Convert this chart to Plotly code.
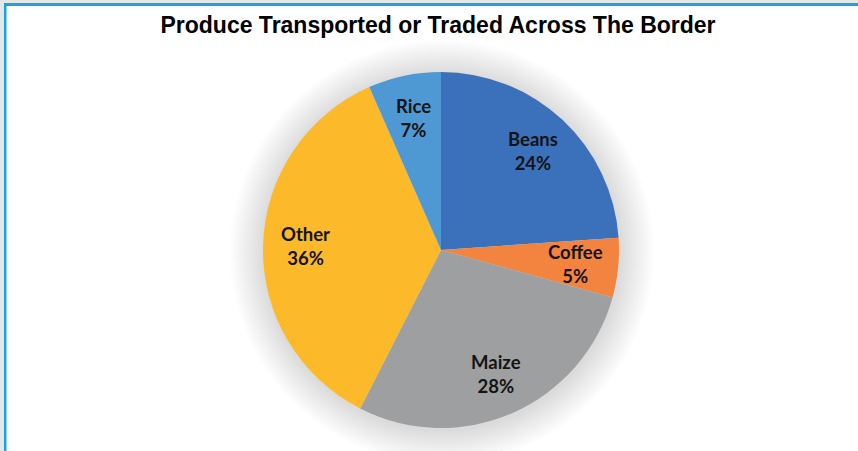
import math
import plotly.graph_objects as go

labels = ["Beans", "Coffee", "Maize", "Other", "Rice"]
values = [23.9, 5.4, 28.2, 35.9, 6.6]
colors = ["#3A71BA", "#F28440", "#9E9FA1", "#FCBA2B", "#4E98D4"]
title_text = "Produce Transported or Traded Across The Border"

W, H = 858, 451
cx, cy, R = 441, 250, 178  # pixel geometry of the pie
label_r = 0.76             # label distance as fraction of radius

def px_x(x):
    return x / W

def px_y(y):
    return 1 - y / H

fig = go.Figure(go.Pie(
    labels=labels,
    values=values,
    marker=dict(colors=colors, line=dict(width=0)),
    sort=False,
    direction="clockwise",
    rotation=0,
    textinfo="none",
    showlegend=False,
    hoverinfo="label+percent",
    domain=dict(x=[px_x(cx - R), px_x(cx + R)], y=[px_y(cy + R), px_y(cy - R)]),
))

# data labels placed at each slice's mid-angle, derived from the values
total = sum(values)
annotations = []
cum = 0.0
for lab, v in zip(labels, values):
    mid = (cum + v / 2) / total * 2 * math.pi
    cum += v
    lx = cx + label_r * R * math.sin(mid)
    ly = cy - label_r * R * math.cos(mid)
    pct = round(v / total * 100)
    annotations.append(dict(
        x=px_x(lx), y=px_y(ly), xref="paper", yref="paper",
        text=f"<b>{lab}<br>{pct}%</b>", showarrow=False,
        xanchor="center", yanchor="middle", align="center",
        font=dict(family="Lato, Open Sans, sans-serif", size=18.5, color="#141414"),
    ))

shapes = []
# soft shadow behind the pie
n = 18
for i in range(n):
    r = R + 34 * (i + 1) / n
    shapes.append(dict(type="circle", xref="paper", yref="paper", layer="below",
                       x0=px_x(cx + 1 - r), x1=px_x(cx + 1 + r),
                       y0=px_y(cy + 2 + r), y1=px_y(cy + 2 - r),
                       fillcolor="rgba(0,0,0,0.0095)", line=dict(width=0)))
# outer light strips
shapes.append(dict(type="rect", xref="paper", yref="paper", x0=0, x1=1, y0=px_y(3), y1=1,
                   fillcolor="#E4E8E4", line=dict(width=0), layer="above"))
shapes.append(dict(type="rect", xref="paper", yref="paper", x0=0, x1=px_x(4), y0=0, y1=1,
                   fillcolor="#E4E8E4", line=dict(width=0), layer="above"))
# blue frame lines
shapes.append(dict(type="rect", xref="paper", yref="paper", x0=px_x(4), x1=1, y0=px_y(6), y1=px_y(3),
                   fillcolor="#1BA1E2", line=dict(width=0), layer="above"))
shapes.append(dict(type="rect", xref="paper", yref="paper", x0=px_x(4), x1=px_x(6.5), y0=0, y1=px_y(3),
                   fillcolor="#1BA1E2", line=dict(width=0), layer="above"))

fig.update_layout(
    width=W, height=H,
    margin=dict(l=0, r=0, t=0, b=0),
    paper_bgcolor="white",
    plot_bgcolor="white",
    shapes=shapes,
    annotations=annotations,
    title=dict(text="<b>" + title_text + "</b>",
               font=dict(family="Liberation Sans, Arial, sans-serif", size=23, color="#000000"),
               x=px_x(438), xanchor="center", y=px_y(25), yanchor="middle"),
)

fig.write_html("out.html", config={"displayModeBar": False},
               post_script="document.body.style.margin='0px';")
